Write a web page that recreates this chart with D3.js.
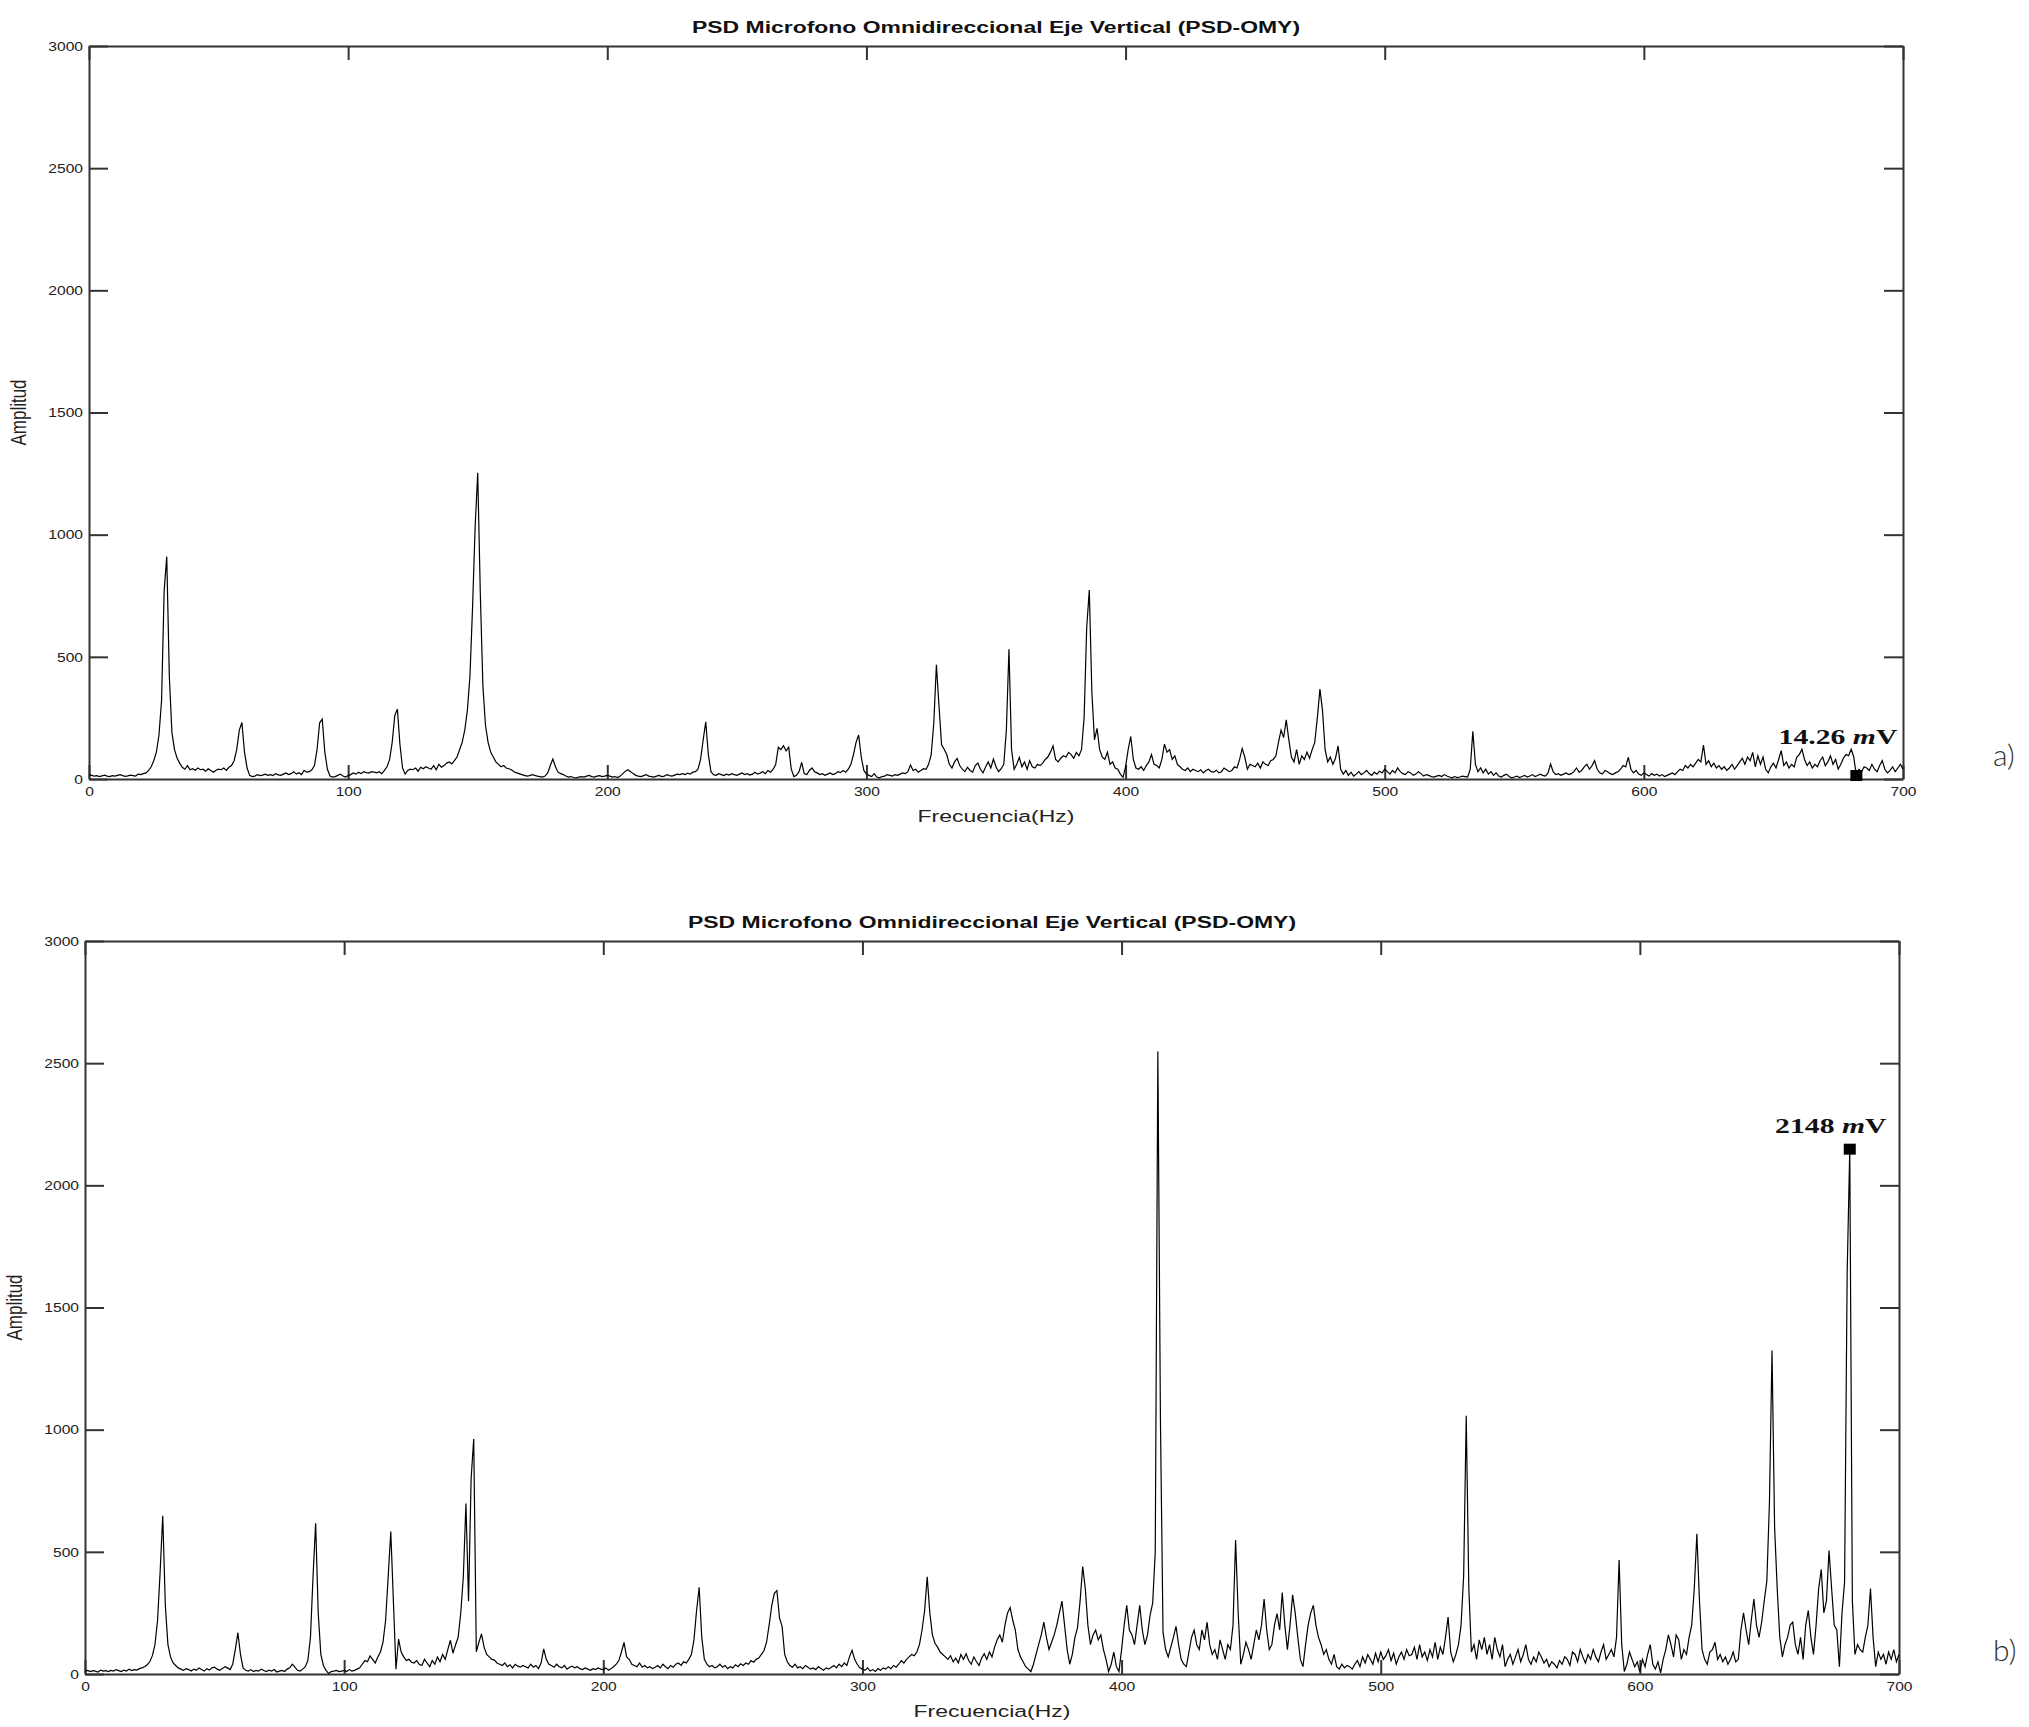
<!DOCTYPE html>
<html>
<head>
<meta charset="utf-8">
<script src="https://cdn.jsdelivr.net/npm/d3@7"></script>
<style>
  body { margin: 0; background: #fff; }
  svg { display: block; }
</style>
</head>
<body>
<div class="chart"></div>
<script>
// Data: amplitude per 1 Hz bin, 0..700 Hz
var freqHz = d3.range(0, 701);

var ampA = [
  18, 15, 12, 14, 10, 13, 16, 12, 10, 14,
  12, 15, 18, 14, 11, 13, 16, 14, 12, 20,
  18, 22, 25, 35, 50, 75, 110, 180, 320, 770,
  910, 420, 190, 120, 85, 65, 48, 40, 55, 38,
  42, 36, 45, 38, 40, 32, 42, 35, 28, 36,
  40, 38, 45, 35, 48, 55, 75, 120, 200, 231,
  110, 45, 15, 10, 12, 18, 14, 16, 20, 15,
  18, 14, 22, 17, 15, 20, 25, 18, 22, 30,
  20, 26, 18, 35, 28, 30, 38, 55, 120, 230,
  245, 110, 40, 12, 8, 10, 15, 20, 12, 8,
  14, 18, 25, 20, 28, 22, 30, 26, 24, 30,
  28, 25, 30, 22, 35, 50, 80, 150, 260, 286,
  140, 45, 20, 35, 40, 38, 45, 32, 48, 42,
  50, 45, 40, 55, 38, 60, 48, 55, 65, 70,
  62, 75, 90, 120, 150, 200, 280, 420, 700, 1030,
  1253, 760, 380, 220, 150, 110, 90, 70, 60, 50,
  55, 45, 42, 38, 30, 25, 22, 18, 15, 12,
  14, 18, 15, 12, 10, 8, 12, 25, 55, 82,
  50, 28, 22, 18, 12, 8, 10, 6, 5, 8,
  10, 8, 12, 15, 10, 8, 12, 14, 10, 12,
  15, 12, 8, 10, 6, 12, 22, 32, 38, 30,
  22, 15, 12, 10, 14, 18, 12, 10, 8, 12,
  15, 10, 12, 18, 14, 12, 16, 20, 18, 22,
  18, 24, 20, 28, 30, 40, 80, 160, 234, 100,
  30, 18, 15, 22, 18, 14, 20, 16, 22, 18,
  15, 20, 25, 18, 22, 16, 20, 28, 20, 24,
  30, 22, 35, 28, 40, 60, 130, 120, 136, 115,
  130, 40, 10, 15, 30, 68, 22, 18, 35, 45,
  30, 25, 18, 22, 15, 20, 25, 18, 22, 30,
  26, 35, 28, 40, 60, 100, 150, 180, 90, 35,
  20, 15, 10, 22, 8, 5, 10, 12, 18, 15,
  12, 18, 15, 20, 25, 22, 30, 57, 35, 40,
  28, 35, 42, 40, 60, 100, 230, 467, 300, 140,
  122, 100, 60, 45, 70, 84, 55, 40, 30, 48,
  35, 28, 55, 65, 40, 25, 50, 70, 45, 82,
  50, 30, 42, 60, 200, 531, 120, 40, 60, 88,
  50, 70, 40, 75, 50, 45, 60, 55, 65, 80,
  90, 110, 136, 80, 70, 85, 95, 90, 109, 100,
  85, 109, 95, 120, 250, 620, 773, 354, 160, 207,
  120, 90, 80, 110, 60, 70, 45, 40, 20, 7,
  50, 120, 174, 80, 45, 40, 50, 35, 55, 70,
  100, 60, 55, 45, 80, 143, 110, 120, 80, 95,
  60, 50, 40, 35, 45, 30, 40, 35, 30, 38,
  25, 35, 40, 30, 28, 36, 25, 30, 45, 38,
  30, 35, 50, 45, 80, 125, 90, 40, 60, 55,
  50, 65, 45, 70, 60, 55, 75, 80, 95, 150,
  200, 170, 242, 160, 90, 70, 120, 60, 95, 80,
  110, 85, 120, 150, 250, 368, 280, 120, 70, 90,
  60, 85, 136, 40, 20, 35, 15, 28, 12, 20,
  30, 18, 25, 35, 22, 15, 28, 20, 32, 25,
  40, 30, 20, 35, 25, 45, 30, 22, 18, 30,
  25, 15, 20, 30, 22, 12, 18, 15, 10, 8,
  12, 15, 10, 18, 12, 8, 5, 10, 6, 8,
  12, 10, 8, 40, 195, 60, 30, 45, 25, 40,
  20, 30, 15, 25, 12, 8, 15, 20, 10, 5,
  8, 12, 6, 10, 15, 8, 12, 18, 10, 14,
  20, 15, 12, 25, 61, 30, 18, 22, 15, 20,
  25, 18, 22, 30, 45, 28, 35, 50, 60, 40,
  55, 75, 40, 25, 20, 35, 30, 22, 18, 25,
  30, 40, 55, 50, 89, 40, 25, 35, 20, 15,
  25, 18, 12, 22, 15, 20, 12, 18, 10, 15,
  20, 25, 18, 30, 40, 35, 55, 45, 60, 50,
  65, 80, 70, 139, 60, 75, 50, 65, 45, 55,
  40, 50, 35, 45, 60, 40, 55, 70, 85, 60,
  90, 75, 109, 50, 95, 60, 90, 40, 25, 50,
  65, 45, 80, 116, 55, 70, 45, 60, 50, 90,
  100, 122, 80, 55, 70, 45, 60, 50, 75, 90,
  55, 70, 95, 60, 80, 40, 60, 85, 100, 95,
  122, 90, 14, 40, 30, 50, 45, 35, 60, 40,
  30, 55, 75, 40, 25, 35, 50, 30, 45, 60,
  40
];

var ampB = [
  12, 15, 10, 14, 12, 8, 16, 12, 14, 10,
  15, 12, 18, 14, 10, 16, 12, 20, 14, 18,
  16, 22, 25, 30, 38, 50, 75, 120, 220, 419,
  648, 280, 120, 70, 45, 35, 25, 20, 15, 22,
  18, 12, 20, 15, 25, 18, 12, 22, 16, 25,
  28, 20, 15, 22, 30, 25, 18, 40, 100, 169,
  80, 25, 15, 12, 18, 10, 15, 12, 20, 14,
  10, 16, 12, 18, 8, 12, 15, 10, 20, 25,
  40, 28, 15, 12, 20, 30, 55, 150, 400, 617,
  250, 80, 35, 15, 2, 10, 12, 15, 10, 12,
  15, 10, 18, 12, 15, 20, 25, 40, 55, 50,
  74, 60, 45, 70, 90, 130, 220, 400, 583, 300,
  20, 143, 90, 70, 55, 60, 48, 45, 55, 40,
  35, 60, 45, 30, 55, 40, 70, 50, 80, 60,
  100, 138, 85, 120, 150, 250, 400, 698, 298, 800,
  962, 91, 130, 164, 110, 80, 70, 60, 57, 45,
  40, 35, 45, 30, 38, 25, 40, 32, 28, 35,
  30, 25, 40, 28, 35, 22, 45, 103, 60, 40,
  35, 28, 40, 30, 25, 35, 20, 28, 32, 25,
  30, 22, 18, 25, 20, 15, 22, 18, 25, 20,
  18, 25, 15, 22, 30, 40, 55, 90, 129, 70,
  60, 40, 35, 30, 45, 28, 35, 25, 30, 22,
  28, 35, 25, 40, 30, 22, 35, 28, 40, 45,
  35, 50, 45, 60, 80, 140, 260, 355, 150, 60,
  40, 30, 35, 25, 30, 40, 28, 35, 22, 30,
  25, 38, 30, 42, 35, 45, 40, 55, 48, 60,
  65, 80, 95, 130, 200, 280, 330, 341, 230, 195,
  80, 50, 35, 28, 40, 25, 30, 22, 35, 28,
  20, 25, 18, 30, 22, 15, 25, 20, 28, 35,
  25, 40, 30, 45, 35, 70, 97, 60, 40, 25,
  20, 15, 25, 12, 18, 10, 22, 15, 25, 20,
  30, 22, 35, 28, 40, 55, 45, 60, 70, 80,
  75, 90, 120, 180, 260, 398, 250, 160, 126, 110,
  90, 80, 70, 60, 75, 50, 65, 45, 80, 60,
  83, 55, 40, 70, 50, 35, 65, 83, 60, 90,
  70, 110, 140, 160, 130, 200, 250, 272, 220, 180,
  100, 70, 50, 30, 20, 10, 40, 80, 120, 160,
  212, 150, 100, 130, 160, 200, 250, 298, 200, 100,
  40, 80, 150, 190, 300, 440, 350, 200, 120, 160,
  180, 140, 160, 100, 60, 10, 40, 90, 30, 10,
  100, 200, 281, 180, 160, 120, 200, 281, 180, 120,
  160, 240, 290, 500, 2548, 1040, 170, 100, 70, 110,
  150, 195, 120, 60, 40, 30, 90, 150, 180, 120,
  100, 180, 140, 212, 120, 80, 100, 60, 140, 100,
  60, 120, 100, 200, 548, 250, 40, 80, 130, 100,
  60, 120, 180, 140, 200, 307, 180, 100, 120, 200,
  247, 180, 333, 200, 100, 200, 324, 250, 150, 60,
  30, 120, 200, 250, 281, 200, 150, 120, 80, 100,
  60, 40, 80, 30, 20, 40, 25, 35, 30, 20,
  40, 55, 30, 70, 45, 80, 60, 40, 85, 50,
  90, 60, 75, 100, 55, 85, 40, 70, 90, 60,
  100, 75, 80, 110, 60, 120, 70, 90, 55, 100,
  70, 130, 60, 110, 80, 150, 233, 90, 50, 80,
  120, 200, 400, 1057, 350, 90, 120, 60, 140, 100,
  150, 80, 120, 60, 150, 100, 70, 120, 30, 60,
  80, 40, 70, 100, 50, 80, 120, 60, 40, 70,
  50, 90, 70, 45, 60, 30, 50, 40, 25, 55,
  40, 70, 60, 35, 90, 80, 50, 100, 70, 45,
  80, 60, 100, 70, 50, 90, 120, 60, 80, 100,
  70, 150, 467, 120, 10, 40, 90, 60, 30, 50,
  10, 60, 30, 80, 120, 40, 20, 50, 5, 60,
  100, 160, 120, 70, 160, 140, 60, 100, 80, 150,
  200, 350, 574, 300, 100, 60, 40, 90, 100, 130,
  60, 80, 50, 70, 40, 60, 90, 50, 60, 180,
  250, 180, 120, 220, 307, 200, 150, 212, 300, 380,
  700, 1324, 600, 350, 150, 70, 120, 150, 200, 212,
  120, 80, 150, 60, 200, 260, 150, 80, 200, 350,
  428, 250, 300, 505, 350, 200, 180, 30, 250, 376,
  1643, 2148, 300, 80, 120, 100, 90, 150, 200, 350,
  150, 30, 90, 60, 80, 40, 90, 60, 100, 50,
  80
];

var xTicks = [0, 100, 200, 300, 400, 500, 600, 700];
var yTicks = [0, 500, 1000, 1500, 2000, 2500, 3000];

// marked points: [frequency, amplitude, label number]
var markA = [682, 14.26, "14.26"];
var markB = [681, 2148, "2148"];

var titleText = "PSD Microfono Omnidireccional Eje Vertical (PSD-OMY)";

// ---------------------------------------------------------------
var svgWidth = 2029;
var svgHeight = 1727;
var sx = 1.35;      // the original figure is stretched sideways
var sxTick = 1.2;   // tick labels a bit narrower

var svg = d3.select(".chart").append("svg")
  .attr("width", svgWidth)
  .attr("height", svgHeight);

var panels = [
  { left: 89, right: 1903, top: 46, bottom: 779, amp: ampA, mark: markA, tag: "a)", markAnchor: "end", markDx: 41, markDy: -32 },
  { left: 85, right: 1899, top: 941, bottom: 1674, amp: ampB, mark: markB, tag: "b)", markAnchor: "middle", markDx: -19, markDy: -16 }
];

function stretched(parent, x, y, rot) {
  return parent.append("g")
    .attr("transform", "translate(" + x + "," + y + ") scale(" + sx + ",1)" + (rot ? " rotate(" + rot + ")" : ""))
    .append("text");
}

panels.forEach(function(p) {
  var x = d3.scaleLinear().domain([0, 700]).range([p.left, p.right]);
  var y = d3.scaleLinear().domain([0, 3000]).range([p.bottom, p.top]);

  var g = svg.append("g");

  var axes = [
    { gen: d3.axisBottom(x).tickValues(xTicks).tickFormat(d3.format("d")).tickSizeInner(-14).tickSizeOuter(0).tickPadding(8), at: "translate(0," + p.bottom + ")" },
    { gen: d3.axisTop(x).tickValues(xTicks).tickSizeInner(-14).tickSizeOuter(0).tickFormat(""), at: "translate(0," + p.top + ")" },
    { gen: d3.axisLeft(y).tickValues(yTicks).tickFormat(d3.format("d")).tickSizeInner(-19).tickSizeOuter(0).tickPadding(5), at: "translate(" + p.left + ",0)" },
    { gen: d3.axisRight(y).tickValues(yTicks).tickSizeInner(-19).tickSizeOuter(0).tickFormat(""), at: "translate(" + p.right + ",0)" }
  ];

  axes.forEach(function(a) {
    var ax = g.append("g").attr("transform", a.at).call(a.gen);
    ax.select(".domain").attr("stroke", "#333").attr("stroke-width", 2);
    ax.selectAll(".tick line").attr("stroke", "#333").attr("stroke-width", 2);
    ax.selectAll(".tick text")
      .attr("font-family", "'Liberation Sans', Arial, sans-serif")
      .attr("font-size", 13)
      .attr("fill", "#222")
      .attr("transform", "scale(" + sxTick + ",1)");
  });

  // spectrum trace
  var line = d3.line()
    .x(function(d, i) { return x(freqHz[i]); })
    .y(function(d) { return y(d); });

  g.append("path")
    .datum(p.amp)
    .attr("d", line)
    .attr("fill", "none")
    .attr("stroke", "#000")
    .attr("stroke-width", 1.2);

  // title and axis labels
  var cx = (p.left + p.right) / 2;
  stretched(g, cx, p.top - 13)
    .attr("text-anchor", "middle")
    .attr("font-family", "'Liberation Sans', Arial, sans-serif")
    .attr("font-weight", "bold")
    .attr("font-size", 17)
    .attr("fill", "#111")
    .text(titleText);

  stretched(g, cx, p.bottom + 43)
    .attr("text-anchor", "middle")
    .attr("font-family", "'Liberation Sans', Arial, sans-serif")
    .attr("font-size", 17)
    .attr("fill", "#222")
    .text("Frecuencia(Hz)");

  stretched(g, p.left - 63, (p.top + p.bottom) / 2, -90)
    .attr("text-anchor", "middle")
    .attr("font-family", "'Liberation Sans', Arial, sans-serif")
    .attr("font-size", 17)
    .attr("fill", "#222")
    .text("Amplitud");

  // marked value
  var mxp = x(p.mark[0]);
  var myp = y(p.mark[1]);
  g.append("rect")
    .attr("x", mxp - 6)
    .attr("y", myp - 5.5)
    .attr("width", 12)
    .attr("height", 11)
    .attr("fill", "#000");

  var t = stretched(g, mxp + p.markDx, myp + p.markDy)
    .attr("text-anchor", p.markAnchor)
    .attr("font-family", "'Liberation Serif', 'Times New Roman', serif")
    .attr("font-weight", "bold")
    .attr("font-size", 22)
    .attr("fill", "#111");
  t.append("tspan").text(p.mark[2] + " ");
  t.append("tspan").attr("font-style", "italic").text("m");
  t.append("tspan").text("V");

  // panel tag
  svg.append("text")
    .attr("x", 1993)
    .attr("y", p.bottom - 13)
    .attr("font-family", "Lato, 'Open Sans', sans-serif")
    .attr("font-weight", 300)
    .attr("font-size", 30)
    .attr("fill", "#333")
    .text(p.tag);
});
</script>
</body>
</html>
